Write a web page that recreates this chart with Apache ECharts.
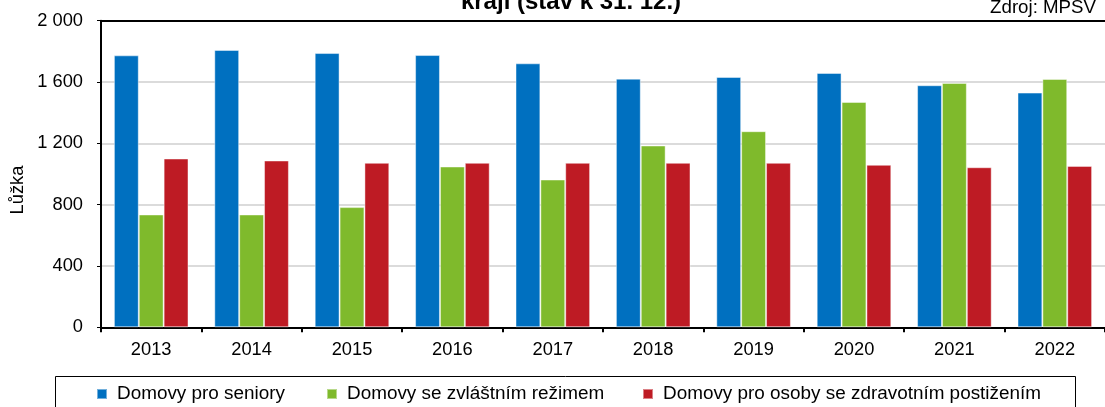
<!DOCTYPE html>
<html>
<head>
<meta charset="utf-8">
<script src="https://cdn.jsdelivr.net/npm/echarts@6/dist/echarts.min.js"></script>
<style>
html,body{margin:0;padding:0;background:#fff;}
#chart{width:1105px;height:407px;}
</style>
</head>
<body>
<div id="chart"></div>
<script>
const categories = ['2013','2014','2015','2016','2017','2018','2019','2020','2021','2022'];
const seniory = [1774, 1809, 1789, 1776, 1722, 1622, 1633, 1659, 1579, 1531];
const zvlastni = [736, 736, 784, 1049, 964, 1186, 1279, 1470, 1594, 1620];
const postizeni = [1101, 1088, 1073, 1073, 1073, 1073, 1073, 1060, 1044, 1053];
const seriesNames = ['Domovy pro seniory', 'Domovy se zvláštním režimem', 'Domovy pro osoby se zdravotním postižením'];
const titleText = 'kraji (stav k 31. 12.)';
const sourceText = 'Zdroj: MPSV';
const yAxisName = 'Lůžka';

const colors = ['#0070C0', '#7FBA2C', '#BE1B24'];
const font = '"Liberation Sans", Arial, sans-serif';

const chart = echarts.init(document.getElementById('chart'), null, {renderer: 'canvas'});

function fmt(v) {
  return String(v).replace(/\B(?=(\d{3})+(?!\d))/g, ' ');
}

const legendLefts = [96, 326, 642];
const legends = seriesNames.map((n, i) => ({
  data: [n],
  left: legendLefts[i],
  top: 384,
  padding: 0,
  itemWidth: 10,
  itemHeight: 10,
  icon: 'rect',
  selectedMode: false,
  textStyle: {fontFamily: font, fontSize: 18.9, color: '#000', lineHeight: 20, padding: [0, 0, 0, 5]}
}));

const barStyle = c => ({color: c, borderColor: 'rgba(255,255,255,0.45)', borderWidth: 1});

chart.setOption({
  animation: false,
  backgroundColor: '#fff',
  color: colors,
  legend: legends,
  grid: {left: 101, top: 20.7, bottom: 79.7, right: -11.5, containLabel: false},
  xAxis: [{
    type: 'category',
    data: categories,
    position: 'bottom',
    axisLine: {lineStyle: {color: '#000', width: 2}},
    axisTick: {show: true, length: 5, lineStyle: {color: '#000', width: 2}},
    axisLabel: {fontFamily: font, fontSize: 18.3, color: '#000', margin: 14}
  }, {
    type: 'category',
    data: categories,
    position: 'top',
    axisLine: {lineStyle: {color: '#000', width: 2}},
    axisTick: {show: false},
    axisLabel: {show: false}
  }],
  yAxis: {
    type: 'value',
    min: 0,
    max: 2000,
    interval: 400,
    axisLine: {show: true, lineStyle: {color: '#000', width: 2}},
    axisTick: {show: true, length: 4, lineStyle: {color: '#000', width: 1}},
    axisLabel: {fontFamily: font, fontSize: 18.3, color: '#000', margin: 18, formatter: v => fmt(v)},
    splitLine: {show: true, lineStyle: {color: '#cfcfcf', width: 1.5}}
  },
  graphic: [
    {type: 'text', x: 571, y: 2, style: {text: titleText, font: 'bold 24px ' + font, fill: '#000', textAlign: 'center', textVerticalAlign: 'middle'}},
    {type: 'text', x: 1096, y: 8.2, style: {text: sourceText, font: '18.7px ' + font, fill: '#000', textAlign: 'right', textVerticalAlign: 'middle'}},
    {type: 'text', x: 18, y: 190, rotation: Math.PI / 2, style: {text: yAxisName, font: '18.3px ' + font, fill: '#000', textAlign: 'center', textVerticalAlign: 'middle'}},
    {type: 'rect', shape: {x: 55.5, y: 376.5, width: 1020, height: 40}, style: {fill: 'none', stroke: '#000', lineWidth: 1}, z: 10}
  ],
  series: [
    {name: seriesNames[0], type: 'bar', data: seniory, barGap: '0%', barCategoryGap: '25.7%', itemStyle: barStyle(colors[0])},
    {name: seriesNames[1], type: 'bar', data: zvlastni, itemStyle: barStyle(colors[1])},
    {name: seriesNames[2], type: 'bar', data: postizeni, itemStyle: barStyle(colors[2])}
  ]
});
</script>
</body>
</html>
